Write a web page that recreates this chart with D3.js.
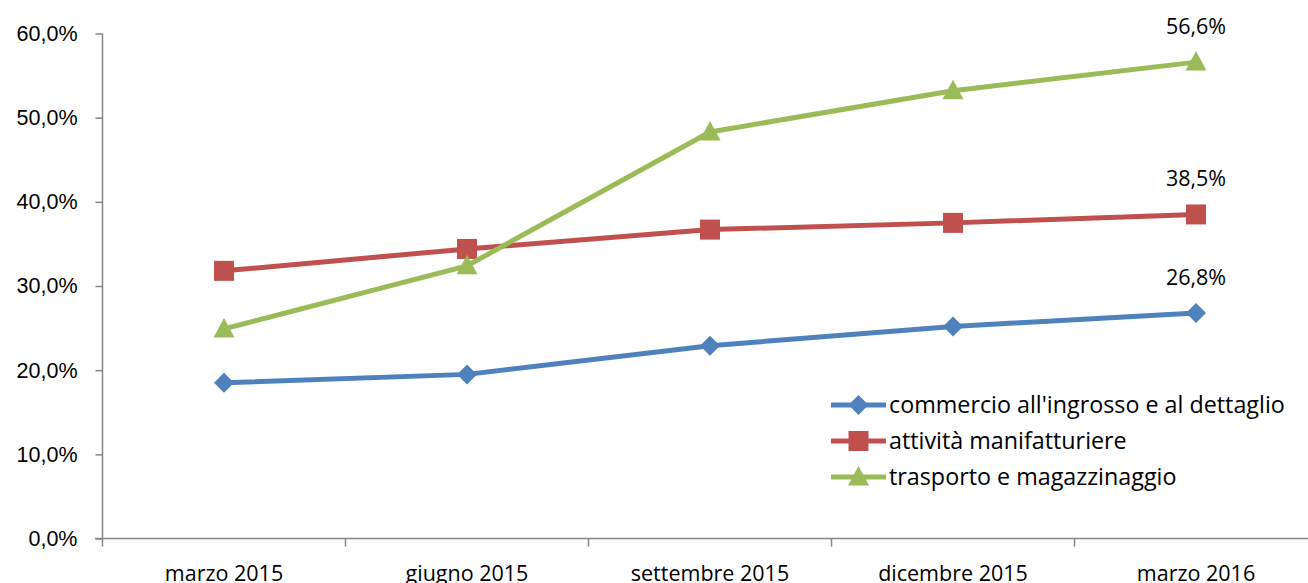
<!DOCTYPE html>
<html>
<head>
<meta charset="utf-8">
<script src="https://cdn.jsdelivr.net/npm/d3@7"></script>
<style>
	body { margin: 0; background: #fff; }
	svg { display: block; font-family: 'Open Sans', sans-serif; }
</style>
</head>
<body>
<div id="chart"></div>
<script>
const categories = ['marzo 2015', 'giugno 2015', 'settembre 2015', 'dicembre 2015', 'marzo 2016'];
const commercio = [18.5, 19.5, 22.9, 25.2, 26.8];
const manifatturiere = [31.8, 34.4, 36.7, 37.5, 38.5];
const trasporto = [24.9, 32.4, 48.3, 53.2, 56.6];
const yTicks = [0, 10, 20, 30, 40, 50, 60];

// markers drawn as plain paths so the diamond stays square
const diamond = 'M0,-10L10,0L0,10L-10,0Z';
const square = 'M-10,-10H10V10H-10Z';
const triangle = 'M0,-11L10.5,8.5H-10.5Z';

const series = [
	{ name: "commercio all'ingrosso e al dettaglio", values: commercio, color: '#4F81BD', marker: diamond },
	{ name: 'attività manifatturiere', values: manifatturiere, color: '#C0504D', marker: square },
	{ name: 'trasporto e magazzinaggio', values: trasporto, color: '#9BBB59', marker: triangle }
];

const W = 1308, H = 583;
const svg = d3.select('#chart').append('svg').attr('width', W).attr('height', H);

const x = d3.scaleBand().domain(categories).range([102.5, 1317.5]);
const y = d3.scaleLinear().domain([0, 60]).range([538.5, 33.5]);
const fmt = v => v.toFixed(1).replace('.', ',') + '%';

// y axis
const yAxis = svg.append('g')
	.attr('transform', 'translate(102.5,0)')
	.call(d3.axisLeft(y).tickValues(yTicks).tickSize(7).tickPadding(18).tickFormat(fmt));
yAxis.select('.domain').attr('stroke', '#868686').attr('stroke-width', 1.5).attr('d', `M0,${y(60)}V${y(0)}`);
yAxis.selectAll('.tick line').attr('stroke', '#868686').attr('stroke-width', 1.5);
yAxis.selectAll('.tick text').attr('fill', '#000').style('font-size', '21.5px');

// x axis
const xAxis = svg.append('g').attr('transform', `translate(0,${y(0)})`);
xAxis.append('line').attr('x1', 95).attr('x2', W).attr('stroke', '#868686').attr('stroke-width', 1.5);
xAxis.selectAll('.xt').data(categories).enter().append('line')
	.attr('x1', d => x(d)).attr('x2', d => x(d)).attr('y1', 0).attr('y2', 8)
	.attr('stroke', '#868686').attr('stroke-width', 1.5);
xAxis.selectAll('text').data(categories).enter().append('text')
	.attr('x', d => x(d) + x.bandwidth() / 2).attr('y', 42)
	.attr('text-anchor', 'middle').style('font-size', '21.5px').text(d => d);

const cx = (d, i) => x(categories[i]) + x.bandwidth() / 2;
const line = d3.line().x(cx).y(d => y(d));

series.forEach(s => {
	svg.append('path').datum(s.values)
		.attr('fill', 'none').attr('stroke', s.color).attr('stroke-width', 5)
		.attr('stroke-linejoin', 'round').attr('d', line);
	svg.selectAll(null).data(s.values).enter().append('path')
		.attr('transform', (d, i) => `translate(${cx(d, i)},${y(d)})`)
		.attr('d', s.marker)
		.attr('fill', s.color);
	const last = s.values.length - 1;
	svg.append('text')
		.attr('x', cx(s.values[last], last)).attr('y', y(s.values[last]) - 28)
		.attr('text-anchor', 'middle').style('font-size', '21.5px')
		.text(fmt(s.values[last]));
});

// legend
const legend = svg.append('g').selectAll('g').data(series).enter().append('g')
	.attr('transform', (d, i) => `translate(831,${405 + i * 36})`);
legend.append('line').attr('x1', 0).attr('x2', 55)
	.attr('stroke', d => d.color).attr('stroke-width', 5);
legend.append('path').attr('transform', 'translate(27.5,0)')
	.attr('d', d => d.marker)
	.attr('fill', d => d.color);
legend.append('text').attr('x', 58).attr('dy', '0.35em')
	.style('font-size', '23.3px').text(d => d.name);
</script>
</body>
</html>
